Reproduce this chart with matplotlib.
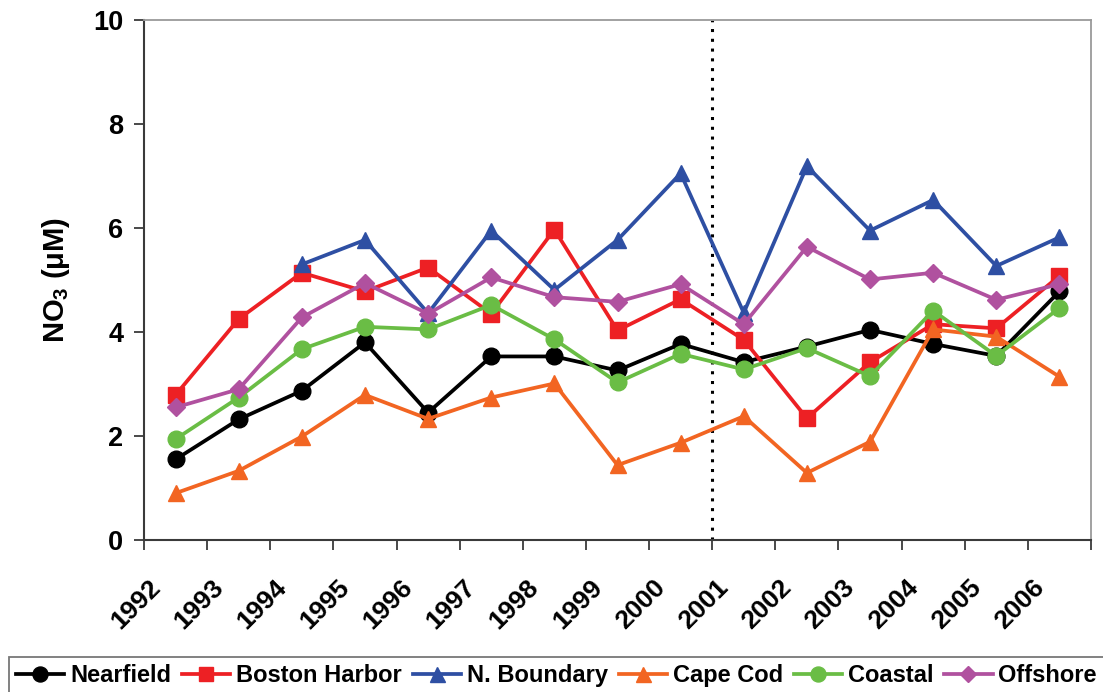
import matplotlib
matplotlib.use("Agg")
import matplotlib.pyplot as plt
import matplotlib.transforms as mtransforms
import numpy as np

plt.rcParams['font.family'] = ['Liberation Sans', 'DejaVu Sans']
plt.rcParams['mathtext.fontset'] = 'custom'
plt.rcParams['mathtext.rm'] = 'Liberation Sans:bold'
plt.rcParams['mathtext.bf'] = 'Liberation Sans:bold'

# Annual mean surface nitrate by region
years = [1992, 1993, 1994, 1995, 1996, 1997, 1998, 1999, 2000,
         2001, 2002, 2003, 2004, 2005, 2006]
nearfield = [1.55, 2.32, 2.87, 3.80, 2.45, 3.53, 3.53, 3.26, 3.77,
             3.42, 3.72, 4.04, 3.77, 3.54, 4.78]
boston_harbor = [2.79, 4.25, 5.14, 4.78, 5.24, 4.35, 5.97, 4.03, 4.63,
                 3.85, 2.34, 3.42, 4.15, 4.07, 5.08]
n_boundary = [np.nan, np.nan, 5.30, 5.77, 4.36, 5.95, 4.81, 5.77, 7.05,
              4.37, 7.19, 5.95, 6.54, 5.27, 5.82]
cape_cod = [0.90, 1.33, 1.99, 2.79, 2.33, 2.74, 3.01, 1.44, 1.87,
            2.38, 1.29, 1.89, 4.05, 3.91, 3.14]
coastal = [1.94, 2.74, 3.67, 4.10, 4.05, 4.52, 3.86, 3.03, 3.58,
           3.28, 3.69, 3.15, 4.41, 3.54, 4.46]
offshore = [2.55, 2.90, 4.28, 4.94, 4.35, 5.05, 4.67, 4.58, 4.92,
            4.15, 5.64, 5.01, 5.14, 4.62, 4.92]
divider_year = 2001

series = [
    ("Nearfield", nearfield, "#000000", "o", 12),
    ("Boston Harbor", boston_harbor, "#ED2024", "s", 11),
    ("N. Boundary", n_boundary, "#2E4FA3", "^", 12),
    ("Cape Cod", cape_cod, "#F26522", "^", 12),
    ("Coastal", coastal, "#6ABD45", "o", 12),
    ("Offshore", offshore, "#B0519F", "D", 9),
]

fig = plt.figure(figsize=(11.03, 6.92), dpi=100)
W, H = 1103, 692
x0, x1, y_top, y_bot = 144, 1091, 20, 540
ax = fig.add_axes([x0 / W, 1 - y_bot / H, (x1 - x0) / W, (y_bot - y_top) / H])

# each annual value sits mid-year, between the year ticks
xpos = np.array(years) + 0.5
for name, vals, color, marker, ms in series:
    ax.plot(xpos, vals, color=color, lw=2.7, marker=marker, ms=ms,
            mec=color, mfc=color, label=name, clip_on=False)

ax.axvline(divider_year, color="black", lw=2.2, ls=(0, (1, 2.2)), zorder=1)

ax.set_xlim(years[0], years[-1] + 1)
ax.set_ylim(0, 10)
ax.set_yticks(np.arange(0, 11, 2))
ax.set_xticks(np.arange(years[0], years[-1] + 2))
ax.set_xticklabels([])

for side in ("top", "right"):
    ax.spines[side].set_color("#9a9a9a")
    ax.spines[side].set_linewidth(1.3)
for side in ("left", "bottom"):
    ax.spines[side].set_color("#3a3a3a")
    ax.spines[side].set_linewidth(1.5)

ax.tick_params(axis="both", direction="out", length=7, width=1.3,
               color="#3a3a3a")
ax.tick_params(axis="y", labelsize=19.5, pad=8)
for lbl in ax.get_yticklabels():
    lbl.set_fontweight("bold")

# rotated year labels hanging below each tick
offset = mtransforms.ScaledTranslation(21 / 100, -35 / 100, fig.dpi_scale_trans)
for yr in years:
    ax.text(yr, 0, str(yr), transform=ax.get_xaxis_transform() + offset,
            rotation=45, ha="right", va="top", fontsize=19,
            fontweight="bold", rotation_mode="default")

ax.set_ylabel("NO$_3$ (\u03bcM)", fontsize=21, fontweight="bold")
ax.yaxis.set_label_coords((72 - x0) / (x1 - x0), 0.5)

leg = fig.legend(loc="upper left", bbox_to_anchor=(9 / W, 1 - 657 / H),
                 ncol=6, prop={"weight": "bold", "size": 17},
                 handlelength=2.05, handletextpad=0.25, columnspacing=0.45,
                 borderpad=0.3, borderaxespad=0, frameon=True, fancybox=False,
                 edgecolor="#555555", markerscale=0.9)
leg.get_frame().set_linewidth(1.3)

fig.savefig("out.png", dpi=100)
